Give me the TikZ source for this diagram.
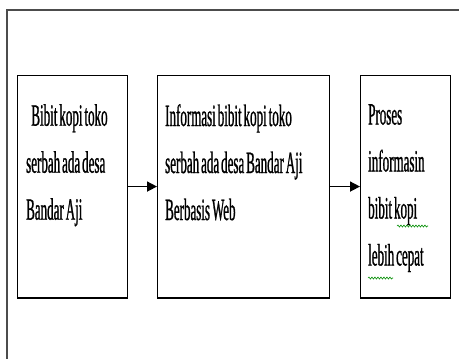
\documentclass[tikz,border=0pt]{standalone}
\usepackage{fontspec}
\setmainfont{Liberation Serif}[FakeStretch=0.42,FakeBold=0.8,WordSpace=0.6]
\usepackage{tikz}
\usetikzlibrary{arrows.meta}
\usetikzlibrary{positioning}
\usetikzlibrary{decorations.pathmorphing}
\tikzset{
    stepbox/.style={draw, line width=1.1pt, anchor=north west, inner sep=0pt},
    boxtext/.style={anchor=north west, align=left, inner sep=0pt,
        font=\fontsize{31}{47}\selectfont},
    flow/.style={-{Triangle[length=10pt,width=10pt]}, line width=1.6pt},
    squiggle/.style={draw=green!55!black, line width=0.6pt,
        decorate, decoration={snake, segment length=3pt, amplitude=1pt}}
}

\begin{document}
\begin{tikzpicture}[x=1pt, y=-1pt]
    \useasboundingbox (0,0) rectangle (459,359);
    % outer frame, only left and top edges visible
    \draw[line width=1.6pt, black!70] (7,359) -- (7,10) -- (459,10);

    \node[stepbox, minimum width=110pt, minimum height=222pt] (input) at (17,75) {};
    \node[stepbox, minimum width=172pt, minimum height=222pt] (system) at (157,75) {};
    \node[stepbox, minimum width=90pt, minimum height=222pt] (output) at (360,75) {};

    % heavier bottom edges
    \draw[line width=2.4pt] (input.south west) -- (input.south east);
    \draw[line width=2.4pt] (system.south west) -- (system.south east);
    \draw[line width=2.4pt] (output.south west) -- (output.south east);

    \node[boxtext] (input-text) at (26,104)
        {\,Bibit kopi toko\\serbah ada desa\\Bandar Aji};
    \node[boxtext] (system-text) at (165,104)
        {Informasi bibit kopi toko\\serbah ada desa Bandar Aji\\Berbasis Web};
    \node[boxtext] (output-text) at (368,104)
        {Proses\\informasin\\bibit kopi\\lebih cepat};

    \draw[flow] (input) -- (system);
    \draw[flow] (system) -- (output);

    % spell-check marks
    \coordinate (kopi-a) at (397,226);
    \coordinate (kopi-b) at (428,226);
    \coordinate (lebih-a) at (368,278);
    \coordinate (lebih-b) at (393,278);
    \draw[squiggle] (kopi-a) -- (kopi-b);
    \draw[squiggle] (lebih-a) -- (lebih-b);
\end{tikzpicture}
\end{document}
